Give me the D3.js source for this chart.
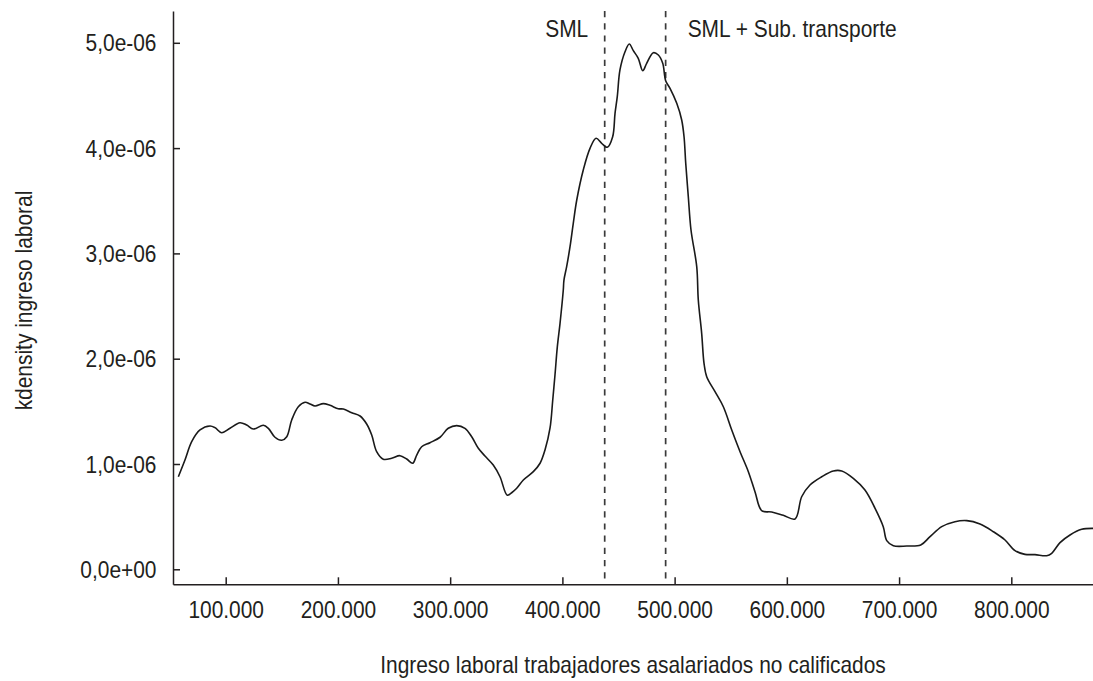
<!DOCTYPE html>
<html><head><meta charset="utf-8">
<script src="https://cdn.jsdelivr.net/npm/d3@7"></script>
<style>
html,body{margin:0;padding:0;background:#fff;}
svg{display:block;}
text{font-family:"Liberation Sans",Arial,sans-serif;fill:#231f20;}
</style>
</head><body>
<svg id="chart" width="1093" height="681"></svg>
<script>
// Income (pesos)
const incomes = [57800,63700,69700,77100,86000,90500,96400,103800,112700,118700,124600,133500,138000,143900,149900,154400,158800,164700,170700,175100,179600,187000,192900,200300,204800,212300,219700,225600,230100,234500,240400,247900,255300,261300,266600,270200,274600,282000,291000,298300,305800,313200,319200,325100,331000,338400,344400,350900,354800,359300,365200,374100,380100,384500,389000,391400,393400,395500,397900,400800,401400,403800,406800,409700,412800,418600,424600,430000,435000,440000,444800,446900,448900,451300,455800,459600,463200,467600,471600,475100,481000,485500,489400,492100,495900,501900,506300,508400,509900,512200,514600,519700,521100,524100,526200,528600,536000,543400,550900,558300,565700,571600,577600,586500,596800,607300,613200,620600,631100,641400,648900,659200,669600,678600,685900,689000,694900,706800,719300,727600,738000,749800,760300,772100,784000,794400,803300,812200,821100,831500,836000,843400,852300,862700,872800];
// Kernel density (in units of 1e-06)
const densities = [0.879,1.038,1.212,1.323,1.361,1.345,1.297,1.339,1.392,1.370,1.332,1.368,1.339,1.254,1.225,1.259,1.418,1.544,1.586,1.570,1.551,1.573,1.557,1.525,1.522,1.487,1.456,1.380,1.275,1.117,1.045,1.054,1.079,1.047,1.007,1.085,1.164,1.202,1.254,1.339,1.364,1.339,1.259,1.149,1.076,0.990,0.879,0.703,0.727,0.769,0.848,0.927,1.007,1.133,1.342,1.608,1.845,2.114,2.336,2.652,2.747,2.874,3.064,3.286,3.507,3.792,3.998,4.093,4.046,4.008,4.108,4.330,4.488,4.742,4.915,4.989,4.925,4.853,4.735,4.805,4.906,4.884,4.805,4.637,4.568,4.425,4.267,4.108,3.856,3.538,3.222,2.874,2.557,2.241,1.956,1.829,1.687,1.544,1.323,1.117,0.927,0.737,0.557,0.544,0.513,0.478,0.689,0.801,0.879,0.934,0.934,0.864,0.753,0.579,0.405,0.272,0.224,0.221,0.231,0.310,0.405,0.452,0.462,0.430,0.357,0.278,0.177,0.142,0.139,0.129,0.152,0.253,0.326,0.380,0.389];

const xTickValues = [100000,200000,300000,400000,500000,600000,700000,800000];
const xTickLabels = ["100.000","200.000","300.000","400.000","500.000","600.000","700.000","800.000"];
const yTickValues = [0,1,2,3,4,5];
const yTickLabels = ["0,0e+00","1,0e-06","2,0e-06","3,0e-06","4,0e-06","5,0e-06"];
const refValues = [437700, 492000];
const refLabels = ["SML", "SML + Sub. transporte"];
const xTitle = "Ingreso laboral trabajadores asalariados no calificados";
const yTitle = "kdensity ingreso laboral";

const SX = 0.91, FS = 23, INK = "#231f20";
const svg = d3.select("#chart");

const x = d3.scaleLinear().domain([53040, 872790]).range([173, 1093]);
const y = d3.scaleLinear().domain([-0.1425, 5.302]).range([584.3, 11]);

// X axis
const gx = svg.append("g").attr("transform", `translate(0,${y.range()[0]})`)
  .call(d3.axisBottom(x).tickValues(xTickValues).tickFormat((d,i)=>xTickLabels[i])
    .tickSizeInner(-7).tickSizeOuter(0).tickPadding(17));
gx.attr("font-size", null).attr("font-family", null);
gx.selectAll("path,line").attr("stroke", INK).attr("stroke-width", 1.5);
gx.selectAll("text").attr("font-size", FS).attr("fill", INK).attr("transform", `scale(${SX},1)`);

// Y axis
const gy = svg.append("g").attr("transform", `translate(${x.range()[0]},0)`)
  .call(d3.axisLeft(y).tickValues(yTickValues).tickFormat((d,i)=>yTickLabels[i])
    .tickSizeInner(-7).tickSizeOuter(0).tickPadding(16));
gy.attr("font-size", null).attr("font-family", null);
gy.selectAll("path,line").attr("stroke", INK).attr("stroke-width", 1.5);
gy.selectAll("text").attr("font-size", FS).attr("fill", INK)
  .attr("x", -16.5 / SX).attr("dy", "0.35em").attr("transform", `scale(${SX},1)`);

// Reference dashed lines
svg.append("g").selectAll("line").data(refValues).join("line")
  .attr("x1", d => x(d)).attr("x2", d => x(d))
  .attr("y1", y.range()[1]).attr("y2", y.range()[0])
  .attr("stroke", "#3a3a3a").attr("stroke-width", 1.7).attr("stroke-dasharray", "6.2,6");

// Reference labels
svg.append("text").attr("transform", `translate(${x(refValues[0]) - 16.5},36.7) scale(${SX},1)`)
  .attr("text-anchor", "end").attr("font-size", FS).text(refLabels[0]);
svg.append("text").attr("transform", `translate(${x(refValues[1]) + 22},36.7) scale(${SX},1)`)
  .attr("text-anchor", "start").attr("font-size", FS).text(refLabels[1]);

// Density curve
const pts = incomes.map((v,i) => [v, densities[i]]);
svg.append("path").datum(pts)
  .attr("fill", "none").attr("stroke", "#1a1a1a").attr("stroke-width", 1.6)
  .attr("stroke-linejoin", "round")
  .attr("d", d3.line().x(d => x(d[0])).y(d => y(d[1])).curve(d3.curveCatmullRom.alpha(0.5)));

// Axis titles
svg.append("text").attr("transform", `translate(633,673) scale(${SX},1)`)
  .attr("text-anchor", "middle").attr("font-size", FS).text(xTitle);
svg.append("text").attr("transform", `translate(32,300.5) rotate(-90) scale(${SX},1)`)
  .attr("text-anchor", "middle").attr("font-size", FS).text(yTitle);
</script>
</body></html>
